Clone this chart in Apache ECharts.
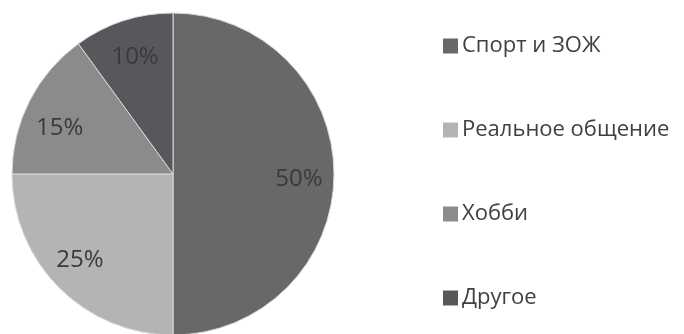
<!DOCTYPE html>
<html><head><meta charset="utf-8">
<script src="https://cdn.jsdelivr.net/npm/echarts@6/dist/echarts.min.js"></script>
<style>html,body{margin:0;padding:0;background:#fff}#c{width:684px;height:334px}</style>
</head><body><div id="c"></div>
<script>
const categories = ['Спорт и ЗОЖ', 'Реальное общение', 'Хобби', 'Другое'];
const values = [50, 25, 15, 10];
const colors = ['#67686a', '#b4b4b4', '#8b8b8c', '#56585b'];
const labelNudges = [[0, 5], [-4, -3], [-1, 11], [1, 3]];

const chart = echarts.init(document.getElementById('c'));
const font = '"Open Sans", "Noto Sans", sans-serif';
chart.setOption({
  animation: false,
  color: colors,
  legend: {
    orient: 'vertical', left: 438, top: 29,
    itemWidth: 15, itemHeight: 15, itemGap: 60,
    icon: 'rect',
    itemStyle: { borderWidth: 0 },
    textStyle: { fontFamily: font, fontSize: 22, color: '#404040', lineHeight: 24, padding: [0,0,0,-1] },
    data: categories
  },
  series: [{
    type: 'pie', center: [173, 174], radius: [0, 161], startAngle: 90, clockwise: true,
    silent: true, label: { show: false }, labelLine: { show: false },
    itemStyle: { borderColor: '#d8d8d8', borderWidth: 1 },
    data: categories.map((n, i) => ({ name: n, value: values[i] }))
  }, {
    type: 'pie', center: [173, 174], radius: [85, 161], startAngle: 90, clockwise: true,
    silent: true, legendHoverLink: false,
    itemStyle: { color: 'rgba(0,0,0,0)', borderWidth: 0 },
    label: { show: true, position: 'inside', formatter: '{c}%', fontFamily: font, fontSize: 24, color: '#3a3a3a' },
    labelLine: { show: false },
    data: categories.map((n, i) => ({ name: n + ' ', value: values[i], label: { offset: labelNudges[i] } }))
  }]
});
</script></body></html>
